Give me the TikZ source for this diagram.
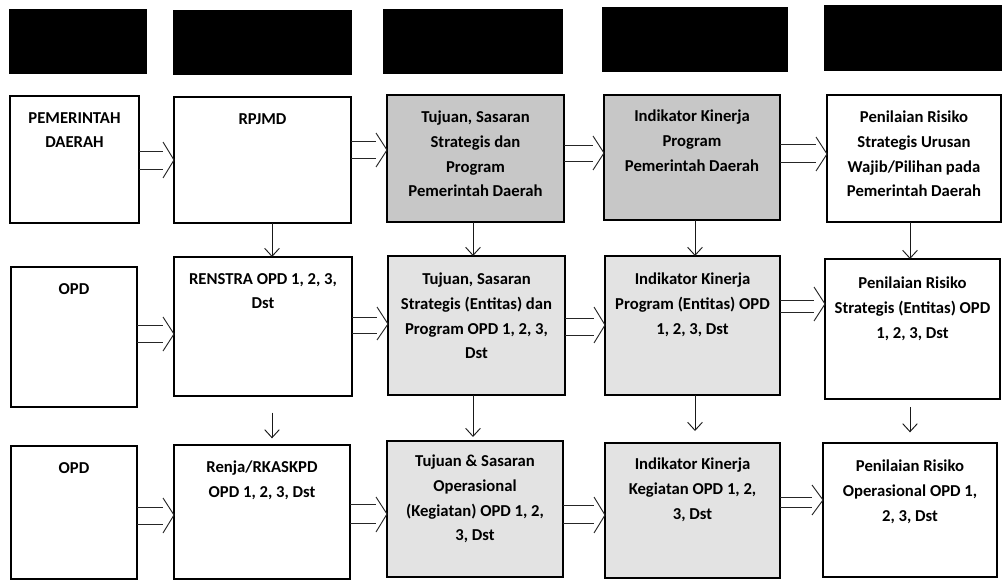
\documentclass[tikz,border=0pt]{standalone}
\usepackage{fontspec}
\setmainfont{Carlito}
\usetikzlibrary{arrows.meta,calc}
\newcommand\bx[6]{\node[box,#6,minimum width={(#4-#2)*0.75pt},minimum height={(#5-#3)*0.75pt}] (#1) at (#2,#3) {};}
\newcommand\dbl[7]{%
  \draw[flow] (#1.east |- 0,#3) -- ($(#2.west |- 0,#3)+(-11,0)$);
  \draw[flow] (#1.east |- 0,#4) -- ($(#2.west |- 0,#4)+(-11,0)$);
  \draw[flow] ($(#2.west |- 0,#5)+(-11,0)$) -- (#2.west |- 0,#7) -- ($(#2.west |- 0,#6)+(-11,0)$);}
\begin{document}
\begin{tikzpicture}[x=0.75pt,y=-0.75pt,
  box/.style={draw=black, line width=1.3pt, inner sep=0pt, outer sep=0pt, anchor=north west},
  hdr/.style={fill=black, draw=black, line width=1pt},
  dark/.style={fill=black!22},
  light/.style={fill=black!11},
  txt/.style={font=\fontsize{12.5}{18.5}\selectfont\bfseries, align=center, anchor=north, inner sep=0pt},
  flow/.style={line width=0.7pt, draw=black!85},
  varr/.style={line width=0.7pt, draw=black!90, -{Straight Barb[length=6pt,width=11pt]}}]
\useasboundingbox (0,0) rectangle (1003,581);
% header boxes
\bx{h1}{10}{10}{146}{73}{hdr}
\bx{h2}{174}{11}{351}{74}{hdr}
\bx{h3}{384}{10}{562}{73}{hdr}
\bx{h4}{603}{8}{787}{71}{hdr}
\bx{h5}{825}{6}{1001}{70}{hdr}
% row 1
\bx{r1c1}{10}{96}{139}{223}{}
\bx{r1c2}{174}{97}{351}{223}{}
\bx{r1c3}{387}{95}{564}{222}{dark}
\bx{r1c4}{604}{95}{780}{220}{dark}
\bx{r1c5}{827}{95}{1001}{222}{}
% row 2
\bx{r2c1}{11}{267}{137}{407}{}
\bx{r2c2}{174}{257}{352}{396}{}
\bx{r2c3}{388}{256}{565}{395}{light}
\bx{r2c4}{605}{256}{780}{395}{light}
\bx{r2c5}{825}{259}{1000}{399}{}
% row 3
\bx{r3c1}{11}{446}{137}{579}{}
\bx{r3c2}{174}{445}{350}{579}{}
\bx{r3c3}{387}{441}{563}{577}{light}
\bx{r3c4}{605}{443}{780}{578}{light}
\bx{r3c5}{823}{443}{997}{577}{}
% texts
\node[txt] (t11) at ($(r1c1.north)+(0,16)$) {PEMERINTAH\\DAERAH};
\node[txt] (t12) at ($(r1c2.north)+(0,16)$) {RPJMD};
\node[txt] (t13) at ($(r1c3.north)+(0,16)$) {Tujuan, Sasaran\\Strategis dan\\Program\\Pemerintah Daerah};
\node[txt] (t14) at ($(r1c4.north)+(0,15)$) {Indikator Kinerja\\Program\\Pemerintah Daerah};
\node[txt] (t15) at ($(r1c5.north)+(0,16)$) {Penilaian Risiko\\Strategis Urusan\\Wajib/Pilihan pada\\Pemerintah Daerah};
\node[txt] (t21) at ($(r2c1.north)+(0,16)$) {OPD};
\node[txt] (t22) at ($(r2c2.north)+(0,16)$) {RENSTRA OPD 1, 2, 3,\\Dst};
\node[txt] (t23) at ($(r2c3.north)+(0,17)$) {Tujuan, Sasaran\\Strategis (Entitas) dan\\Program OPD 1, 2, 3,\\Dst};
\node[txt] (t24) at ($(r2c4.north)+(0,17)$) {Indikator Kinerja\\Program (Entitas) OPD\\1, 2, 3, Dst};
\node[txt] (t25) at ($(r2c5.north)+(0,18)$) {Penilaian Risiko\\Strategis (Entitas) OPD\\1, 2, 3, Dst};
\node[txt] (t31) at ($(r3c1.north)+(0,16)$) {OPD};
\node[txt] (t32) at ($(r3c2.north)+(0,16)$) {Renja/RKASKPD\\OPD 1, 2, 3, Dst};
\node[txt] (t33) at ($(r3c3.north)+(0,14)$) {Tujuan \& Sasaran\\Operasional\\(Kegiatan) OPD 1, 2,\\3, Dst};
\node[txt] (t34) at ($(r3c4.north)+(0,15)$) {Indikator Kinerja\\Kegiatan OPD 1, 2,\\3, Dst};
\node[txt] (t35) at ($(r3c5.north)+(0,17)$) {Penilaian Risiko\\Operasional OPD 1,\\2, 3, Dst};
% horizontal double arrows
\dbl{r1c1}{r1c2}{151}{169}{142}{178}{160}
\dbl{r1c2}{r1c3}{141}{158}{133}{167}{150}
\dbl{r1c3}{r1c4}{145}{161}{136}{170}{153}
\dbl{r1c4}{r1c5}{144}{162}{137}{171}{154}
\dbl{r2c1}{r2c2}{325}{342}{317}{351}{334}
\dbl{r2c2}{r2c3}{317}{333}{307}{340}{324}
\dbl{r2c3}{r2c4}{318}{335}{307}{343}{325}
\dbl{r2c4}{r2c5}{300}{312}{287}{321}{304}
\dbl{r3c1}{r3c2}{507}{524}{498}{533}{515}
\dbl{r3c2}{r3c3}{504}{523}{497}{532}{514}
\dbl{r3c3}{r3c4}{505}{523}{497}{533}{515}
\dbl{r3c4}{r3c5}{497}{507}{485}{515}{500}
% vertical arrows
\draw[varr] (r1c2.south -| 272,0) -- (r2c2.north -| 272,0);
\draw[varr] (r1c3.south -| 473,0) -- (r2c3.north -| 473,0);
\draw[varr] (r1c4.south -| 695,0) -- (r2c4.north -| 695,0);
\draw[varr] (r1c5.south -| 910,0) -- (r2c5.north -| 910,0);
\draw[varr, shorten <=12.5pt, shorten >=5pt] (r2c2.south -| 272,0) -- (r3c2.north -| 272,0);
\draw[varr, shorten >=3pt] (r2c3.south -| 473,0) -- (r3c3.north -| 473,0);
\draw[varr, shorten >=9pt] (r2c4.south -| 695,0) -- (r3c4.north -| 695,0);
\draw[varr, shorten <=6pt, shorten >=8pt] (r2c5.south -| 910,0) -- (r3c5.north -| 910,0);
\end{tikzpicture}
\end{document}
